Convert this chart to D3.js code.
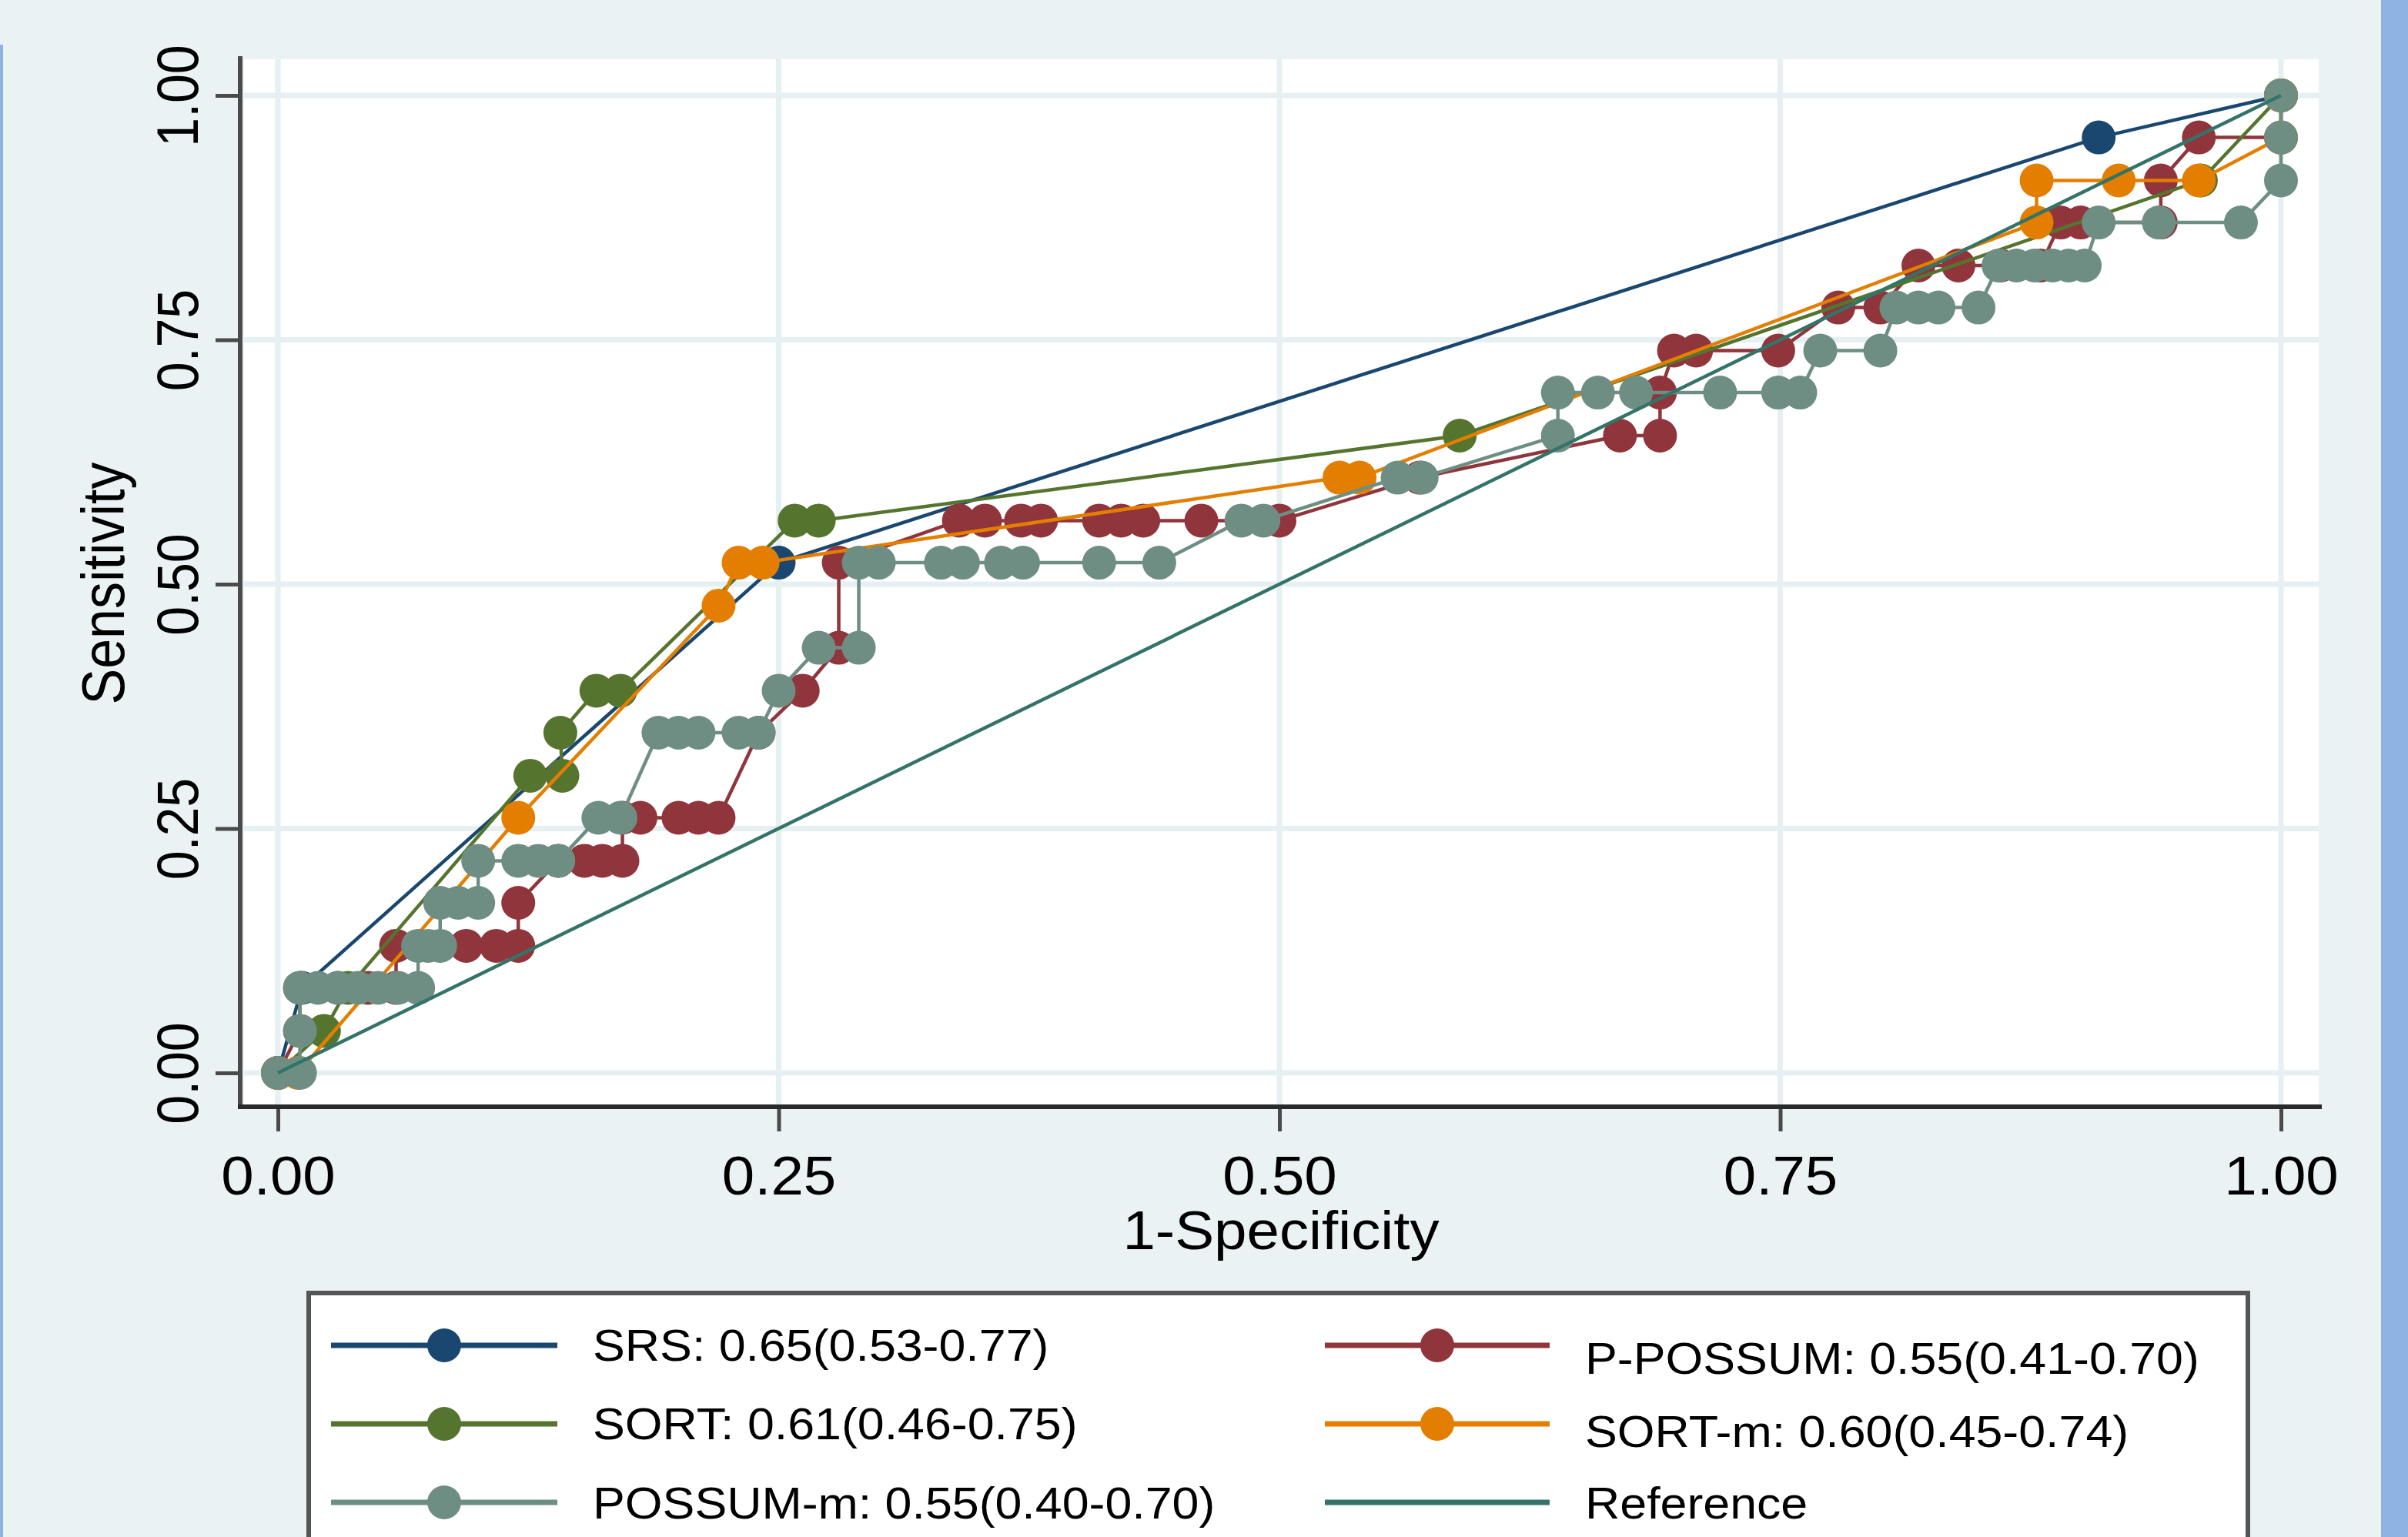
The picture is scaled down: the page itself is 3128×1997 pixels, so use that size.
<!DOCTYPE html>
<html>
<head>
<meta charset="utf-8">
<script src="https://cdnjs.cloudflare.com/ajax/libs/d3/7.8.5/d3.min.js"></script>
<style>
  body { margin: 0; background: #eaf2f3; }
  svg { display: block; }
</style>
</head>
<body>
<div id="chart"></div>
<script>
// ROC comparison (1-Specificity vs Sensitivity)
var xTicks = [0, 0.25, 0.5, 0.75, 1];
var yTicks = [0, 0.25, 0.5, 0.75, 1];

var srsX = [0, 0.012, 0.25, 0.909, 1];
var srsY = [0, 0.087, 0.522, 0.957, 1];

var ppossumX = [0, 0.011, 0.011, 0.03, 0.045, 0.059, 0.059, 0.094, 0.109, 0.12, 0.12, 0.14, 0.153, 0.162, 0.172, 0.172, 0.181, 0.2, 0.21, 0.22, 0.24, 0.262, 0.28, 0.28, 0.34, 0.353, 0.371, 0.381, 0.41, 0.421, 0.432, 0.461, 0.5, 0.57, 0.67, 0.69, 0.69, 0.697, 0.708, 0.749, 0.779, 0.8, 0.819, 0.839, 0.86, 0.88, 0.89, 0.9, 0.94, 0.94, 0.959, 1, 1];
var ppossumY = [0, 0.043, 0.087, 0.087, 0.087, 0.087, 0.13, 0.13, 0.13, 0.13, 0.174, 0.217, 0.217, 0.217, 0.217, 0.261, 0.261, 0.261, 0.261, 0.261, 0.348, 0.391, 0.435, 0.522, 0.565, 0.565, 0.565, 0.565, 0.565, 0.565, 0.565, 0.565, 0.565, 0.609, 0.652, 0.652, 0.696, 0.739, 0.739, 0.739, 0.783, 0.783, 0.826, 0.826, 0.826, 0.826, 0.87, 0.87, 0.87, 0.913, 0.957, 0.957, 1];

var sortX = [0, 0.023, 0.035, 0.126, 0.142, 0.141, 0.159, 0.171, 0.258, 0.27, 0.59, 0.96, 1];
var sortY = [0, 0.043, 0.087, 0.304, 0.304, 0.348, 0.391, 0.391, 0.565, 0.565, 0.652, 0.913, 1];

var sortmX = [0, 0.01, 0.12, 0.22, 0.23, 0.242, 0.53, 0.54, 0.878, 0.878, 0.919, 0.959, 1, 1];
var sortmY = [0, 0, 0.261, 0.478, 0.522, 0.522, 0.609, 0.609, 0.87, 0.913, 0.913, 0.913, 0.957, 1];

var possummX = [0, 0.011, 0.011, 0.011, 0.02, 0.03, 0.04, 0.05, 0.06, 0.07, 0.07, 0.075, 0.081, 0.081, 0.09, 0.1, 0.1, 0.12, 0.13, 0.14, 0.16, 0.171, 0.19, 0.2, 0.21, 0.23, 0.24, 0.25, 0.27, 0.29, 0.29, 0.3, 0.331, 0.342, 0.361, 0.372, 0.41, 0.44, 0.481, 0.492, 0.559, 0.571, 0.639, 0.639, 0.659, 0.678, 0.72, 0.749, 0.76, 0.77, 0.8, 0.808, 0.819, 0.829, 0.849, 0.859, 0.868, 0.877, 0.886, 0.894, 0.902, 0.909, 0.939, 0.98, 1, 1, 1];
var possummY = [0, 0, 0.043, 0.087, 0.087, 0.087, 0.087, 0.087, 0.087, 0.087, 0.13, 0.13, 0.13, 0.174, 0.174, 0.174, 0.217, 0.217, 0.217, 0.217, 0.261, 0.261, 0.348, 0.348, 0.348, 0.348, 0.348, 0.391, 0.435, 0.435, 0.522, 0.522, 0.522, 0.522, 0.522, 0.522, 0.522, 0.522, 0.565, 0.565, 0.609, 0.609, 0.652, 0.696, 0.696, 0.696, 0.696, 0.696, 0.696, 0.739, 0.739, 0.783, 0.783, 0.783, 0.783, 0.826, 0.826, 0.826, 0.826, 0.826, 0.826, 0.87, 0.87, 0.87, 0.913, 0.957, 1];

var refX = [0, 1];
var refY = [0, 1];

// draw order follows the legend order (row by row)
var seriesLabels = ["SRS: 0.65(0.53-0.77)", "P-POSSUM: 0.55(0.41-0.70)", "SORT: 0.61(0.46-0.75)", "SORT-m: 0.60(0.45-0.74)", "POSSUM-m: 0.55(0.40-0.70)", "Reference"];
var seriesColors = ["#1a476f", "#90353b", "#55752f", "#e37e00", "#6e8e84", "#347468"];
var seriesXs = [srsX, ppossumX, sortX, sortmX, possummX, refX];
var seriesYs = [srsY, ppossumY, sortY, sortmY, possummY, refY];
var seriesMarkers = [true, true, true, true, true, false];

var W = 3128, H = 1997;
var FONT = "'Liberation Sans', Arial, sans-serif";
var R = 22;

var svg = d3.select("#chart").append("svg")
    .attr("width", W)
    .attr("height", H);

svg.append("rect").attr("width", W).attr("height", H).attr("fill", "#eaf2f3");
svg.append("rect").attr("x", 0).attr("y", 58).attr("width", 4).attr("height", H - 58).attr("fill", "#8fb3e2");
svg.append("rect").attr("x", 3093).attr("y", 0).attr("width", W - 3093).attr("height", H).attr("fill", "#8fb3e2");

// plot region
svg.append("rect")
    .attr("x", 317).attr("y", 77)
    .attr("width", 3012 - 317).attr("height", 1437 - 77)
    .attr("fill", "#ffffff");

var x = d3.scaleLinear().domain([0, 1]).range([361, 2963]);
var y = d3.scaleLinear().domain([0, 1]).range([1394, 124]);

// grid
var grid = svg.append("g");
grid.selectAll("line.gx").data(xTicks).enter().append("line")
    .attr("x1", function(d) { return x(d); }).attr("x2", function(d) { return x(d); })
    .attr("y1", 77).attr("y2", 1437)
    .style("stroke", "#e6eff1").style("stroke-width", 7);
grid.selectAll("line.gy").data(yTicks).enter().append("line")
    .attr("x1", 317).attr("x2", 3012)
    .attr("y1", function(d) { return y(d); }).attr("y2", function(d) { return y(d); })
    .style("stroke", "#e6eff1").style("stroke-width", 7);

// axes
var xAxis = d3.axisBottom(x).tickValues(xTicks).tickFormat(d3.format(".2f")).tickSize(30).tickPadding(32);
var gx = svg.append("g").attr("transform", "translate(0,1440)").call(xAxis);
gx.select(".domain").remove();
gx.selectAll(".tick line").style("stroke", "#4a4a4a").style("stroke-width", 5);
gx.selectAll(".tick text")
    .style("font-family", FONT).style("font-size", "70px").style("fill", "#000")
    .attr("transform", "scale(1.09,1)");

var yAxis = d3.axisLeft(y).tickValues(yTicks).tickFormat(d3.format(".2f")).tickSize(30);
var gy = svg.append("g").attr("transform", "translate(310,0)").call(yAxis);
gy.select(".domain").remove();
gy.selectAll(".tick line").style("stroke", "#4a4a4a").style("stroke-width", 5);
gy.selectAll(".tick text")
    .attr("x", null).attr("dy", null)
    .attr("text-anchor", "middle")
    .attr("transform", "translate(-53,0) scale(1.12,1) rotate(-90)")
    .style("font-family", FONT).style("font-size", "68px").style("fill", "#000");

svg.append("line").attr("x1", 312).attr("x2", 312).attr("y1", 73).attr("y2", 1440)
    .style("stroke", "#4a4a4a").style("stroke-width", 6);
svg.append("line").attr("x1", 309).attr("x2", 3016).attr("y1", 1438).attr("y2", 1438)
    .style("stroke", "#2a2a2a").style("stroke-width", 6);

svg.append("text")
    .attr("transform", "translate(1664,1623) scale(1.09,1)")
    .attr("text-anchor", "middle")
    .style("font-family", FONT).style("font-size", "70px")
    .text("1-Specificity");
svg.append("text")
    .attr("transform", "translate(161,758) scale(1.12,1) rotate(-90)")
    .attr("text-anchor", "middle")
    .style("font-family", FONT).style("font-size", "70px")
    .text("Sensitivity");

// series
var line = d3.line()
    .x(function(d) { return x(d[0]); })
    .y(function(d) { return y(d[1]); });

seriesXs.forEach(function(xs, i) {
  var pts = xs.map(function(v, j) { return [v, seriesYs[i][j]]; });
  var g = svg.append("g");
  g.append("path")
      .attr("d", line(pts))
      .style("fill", "none")
      .style("stroke", seriesColors[i])
      .style("stroke-width", 4.5)
      .style("stroke-linejoin", "round");
  if (seriesMarkers[i]) {
    g.selectAll("circle").data(pts).enter().append("circle")
        .attr("cx", function(d) { return x(d[0]); })
        .attr("cy", function(d) { return y(d[1]); })
        .attr("r", R)
        .style("fill", seriesColors[i]);
  }
});

// legend
var legend = svg.append("g");
legend.append("rect")
    .attr("x", 401).attr("y", 1680)
    .attr("width", 2920 - 401).attr("height", 400)
    .style("fill", "#ffffff").style("stroke", "#555555").style("stroke-width", 6);

var colX = [430, 1721];
var rowY = [1748, 1850, 1952];
var textDy = [[20, 20, 21], [37, 30, 21]];

seriesLabels.forEach(function(label, i) {
  var c = i % 2, r = Math.floor(i / 2);
  var lx = colX[c], ly = rowY[r];
  var len = c === 0 ? 294 : 292;
  legend.append("line")
      .attr("x1", lx).attr("x2", lx + len).attr("y1", ly).attr("y2", ly)
      .style("stroke", seriesColors[i]).style("stroke-width", 7);
  if (seriesMarkers[i]) {
    legend.append("circle")
        .attr("cx", lx + len / 2).attr("cy", ly).attr("r", R)
        .style("fill", seriesColors[i]);
  }
  legend.append("text")
      .attr("transform", "translate(" + (lx + len + 46) + "," + (ly + textDy[c][r]) + ") scale(1.1,1)")
      .style("font-family", FONT).style("font-size", "57px")
      .text(label);
});
</script>
</body>
</html>
